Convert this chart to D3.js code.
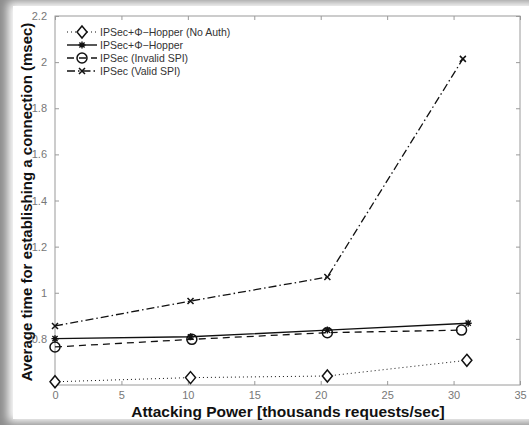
<!DOCTYPE html>
<html>
<head>
<meta charset="utf-8">
<script src="https://cdn.jsdelivr.net/npm/d3@7"></script>
<style>
  html, body { margin: 0; padding: 0; background: #8c8c8c; }
  svg { display: block; }
</style>
</head>
<body>
<div id="chart"></div>
<script>
// series
var seriesNames = ["IPSec+\u03A6\u2212Hopper (No Auth)", "IPSec+\u03A6\u2212Hopper", "IPSec (Invalid SPI)", "IPSec (Valid SPI)"];
var xNoAuth = [0, 10.2, 20.5, 31.0];
var yNoAuth = [0.614, 0.632, 0.639, 0.707];
var xHopper = [0, 10.2, 20.5, 31.1];
var yHopper = [0.801, 0.809, 0.838, 0.868];
var xInvalid = [0, 10.3, 20.5, 30.6];
var yInvalid = [0.765, 0.798, 0.827, 0.838];
var xValid = [0, 10.2, 20.5, 30.7];
var yValid = [0.856, 0.964, 1.068, 2.014];
var xTicks = [0, 5, 10, 15, 20, 25, 30, 35];
var yTicks = [0.8, 1, 1.2, 1.4, 1.6, 1.8, 2, 2.2];

var W = 529, H = 425;
var margin = { top: 16, right: 9, bottom: 40, left: 55 };
var width = W - margin.left - margin.right,
    height = H - margin.top - margin.bottom;

var svg = d3.select("#chart").append("svg")
    .attr("width", W)
    .attr("height", H);

var defs = svg.append("defs");
var blur = defs.append("filter").attr("id", "soft")
    .attr("x", "-10%").attr("y", "-10%").attr("width", "120%").attr("height", "120%");
blur.append("feGaussianBlur").attr("stdDeviation", 5);

// grey frame with a white card on it
svg.append("rect").attr("width", W).attr("height", H).attr("fill", "#8c8c8c");
svg.append("rect")
    .attr("x", 8).attr("y", 2).attr("width", W).attr("height", 420)
    .attr("fill", "#ffffff")
    .attr("filter", "url(#soft)");
svg.append("rect")
    .attr("x", 13).attr("y", 6).attr("width", W).attr("height", 413)
    .attr("fill", "#ffffff");

var g = svg.append("g")
    .attr("transform", "translate(" + margin.left + "," + margin.top + ")");

var x = d3.scaleLinear().domain([0, 35]).range([0, width]);
var y = d3.scaleLinear().domain([0.6, 2.2]).range([height, 0]);

function styleAxis(sel) {
    sel.select(".domain").remove();
    sel.selectAll(".tick line").attr("stroke", "#9a9a9a");
    sel.selectAll(".tick text")
        .attr("fill", "#777")
        .style("font-family", "Liberation Sans, Arial, sans-serif")
        .style("font-size", "11px");
}

g.append("g")
    .attr("transform", "translate(0," + height + ")")
    .call(d3.axisBottom(x).tickValues(xTicks).tickSizeInner(-4).tickSizeOuter(0).tickPadding(6))
    .call(styleAxis);
g.append("g")
    .call(d3.axisTop(x).tickValues(xTicks).tickSizeInner(-4).tickSizeOuter(0).tickFormat(""))
    .call(styleAxis);
g.append("g")
    .call(d3.axisLeft(y).tickValues(yTicks).tickSizeInner(-4).tickSizeOuter(0).tickPadding(8)
        .tickFormat(function (d) { return String(+d.toFixed(1)); }))
    .call(styleAxis);
g.append("g")
    .attr("transform", "translate(" + width + ",0)")
    .call(d3.axisRight(y).tickValues(yTicks).tickSizeInner(-4).tickSizeOuter(0).tickFormat(""))
    .call(styleAxis);

g.append("rect")
    .attr("width", width).attr("height", height)
    .attr("fill", "none").attr("stroke", "#9a9a9a").attr("stroke-width", 1);

var series = [
    { name: seriesNames[0], xs: xNoAuth, ys: yNoAuth, dash: "1,3", marker: "diamond", lw: 1 },
    { name: seriesNames[1], xs: xHopper, ys: yHopper, dash: null, marker: "star", lw: 1.4 },
    { name: seriesNames[2], xs: xInvalid, ys: yInvalid, dash: "7,5", marker: "circle", lw: 1.3 },
    { name: seriesNames[3], xs: xValid, ys: yValid, dash: "8,3,1.5,3", marker: "cross", lw: 1.3 }
];

function drawMarker(sel, kind) {
    if (kind === "diamond") {
        sel.append("path").attr("d", "M0,-6L5,0L0,6L-5,0Z")
            .attr("fill", "#fff").attr("stroke", "#111").attr("stroke-width", 1.5);
    } else if (kind === "circle") {
        sel.append("circle").attr("r", 5)
            .attr("fill", "none").attr("stroke", "#111").attr("stroke-width", 1.5);
    } else if (kind === "star") {
        sel.append("path").attr("d", "M-3.5,0H3.5M0,-3.5V3.5M-2.6,-2.6L2.6,2.6M-2.6,2.6L2.6,-2.6")
            .attr("stroke", "#111").attr("stroke-width", 1.4);
    } else {
        sel.append("path").attr("d", "M-3,-3L3,3M-3,3L3,-3")
            .attr("stroke", "#111").attr("stroke-width", 1.5);
    }
}

var line = d3.line()
    .x(function (d) { return x(d[0]); })
    .y(function (d) { return y(d[1]); });

series.forEach(function (s) {
    var pts = s.xs.map(function (v, i) { return [v, s.ys[i]]; });
    g.append("path")
        .datum(pts)
        .attr("d", line)
        .attr("fill", "none")
        .attr("stroke", "#111")
        .attr("stroke-width", s.lw)
        .attr("stroke-dasharray", s.dash);
    g.selectAll(null)
        .data(pts)
        .enter()
        .append("g")
        .attr("transform", function (d) { return "translate(" + x(d[0]) + "," + y(d[1]) + ")"; })
        .each(function () { drawMarker(d3.select(this), s.marker); });
});

// legend, no box
var legend = g.append("g").attr("transform", "translate(12,16)");
series.forEach(function (s, i) {
    var row = legend.append("g").attr("transform", "translate(0," + (i * 13) + ")");
    row.append("line")
        .attr("x1", 0).attr("x2", 30)
        .attr("stroke", "#111").attr("stroke-width", s.lw)
        .attr("stroke-dasharray", s.dash);
    var m = row.append("g").attr("transform", "translate(15,0)");
    drawMarker(m, s.marker);
    row.append("text")
        .attr("x", 33).attr("y", 4)
        .attr("fill", "#333")
        .style("font-family", "Liberation Sans, Arial, sans-serif")
        .style("font-size", "10.5px")
        .text(s.name);
});

// axis titles
svg.append("text")
    .attr("x", 288).attr("y", 417)
    .attr("text-anchor", "middle")
    .style("font-family", "Liberation Sans, Arial, sans-serif")
    .style("font-weight", "bold")
    .style("font-size", "15.5px")
    .attr("fill", "#111")
    .text("Attacking Power [thousands requests/sec]");

svg.append("text")
    .attr("transform", "translate(32,202) rotate(-90)")
    .attr("text-anchor", "middle")
    .style("font-family", "Liberation Sans, Arial, sans-serif")
    .style("font-weight", "bold")
    .style("font-size", "15px")
    .attr("fill", "#111")
    .text("Average time for establishing a connection (msec)");
</script>
</body>
</html>
